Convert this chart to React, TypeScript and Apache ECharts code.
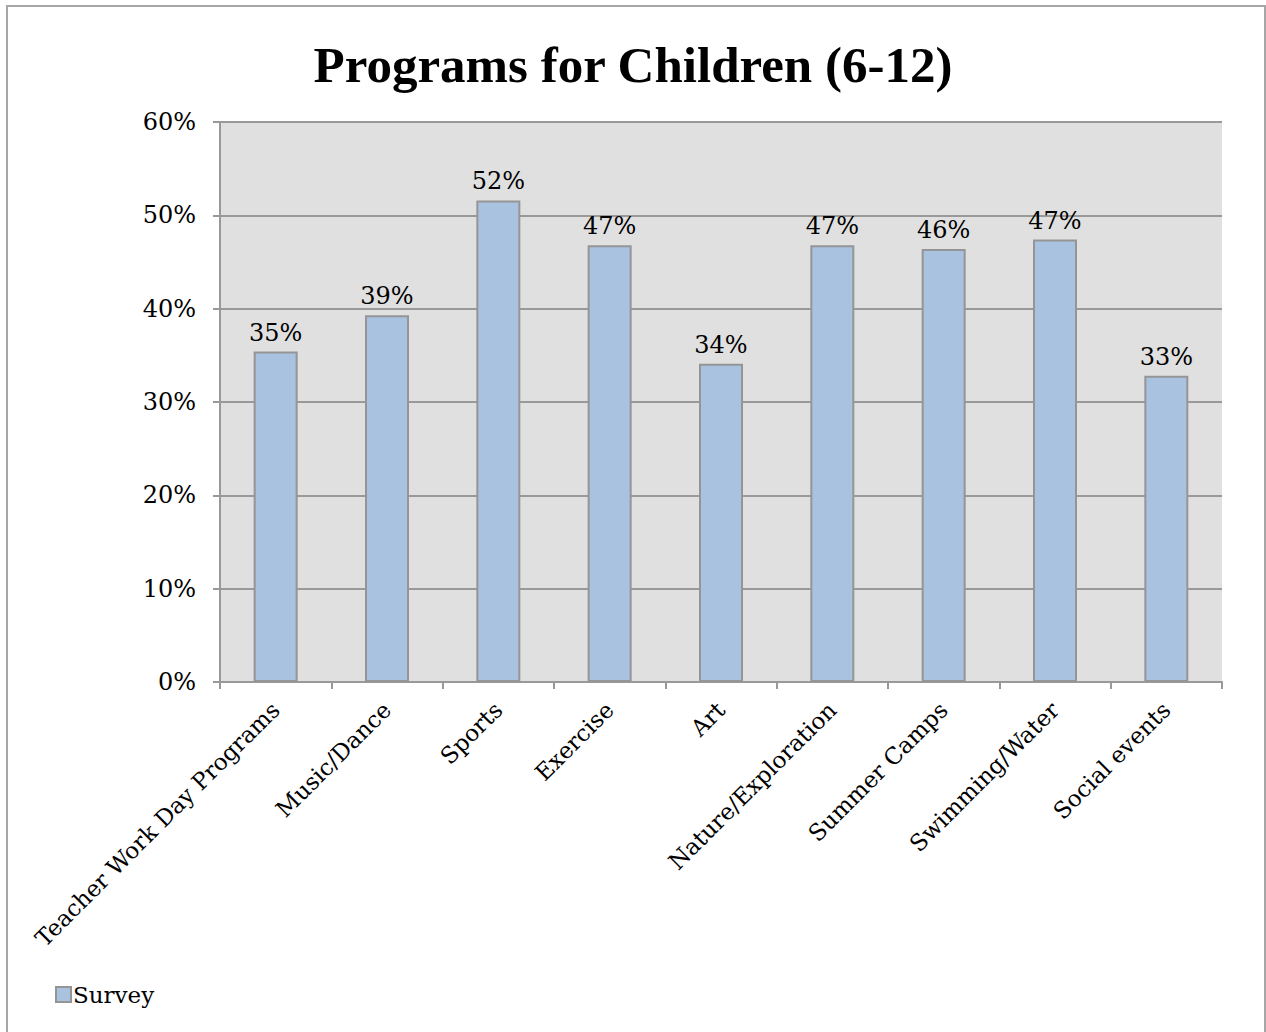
import React, { useEffect, useRef } from "react";
import * as echarts from "echarts";

const categories = [
  "Teacher Work Day Programs",
  "Music/Dance",
  "Sports",
  "Exercise",
  "Art",
  "Nature/Exploration",
  "Summer Camps",
  "Swimming/Water",
  "Social events",
];
const surveyValues = [35.4, 39.3, 51.6, 46.8, 34.1, 46.8, 46.4, 47.4, 32.8];
const seriesName = "Survey";
const titleText = "Programs for Children (6-12)";

const FONT = "'DejaVu Serif', serif";
const GRAY = "#999999";

export default function App() {
  const ref = useRef<HTMLDivElement>(null);
  useEffect(() => {
    if (!ref.current) return;
    const chart = echarts.init(ref.current, null, { renderer: "svg" });
    chart.setOption({
      animation: false,
      backgroundColor: "#ffffff",
      title: {
        text: titleText,
        left: "center",
        top: 34,
        textStyle: {
          fontFamily: "'Liberation Serif', serif",
          fontWeight: "bold",
          fontSize: 51,
          color: "#000",
        },
      },
      legend: {
        left: 50,
        top: 978,
        itemWidth: 15,
        itemHeight: 15,
        itemGap: 6,
        icon: "rect",
        textStyle: { fontFamily: FONT, fontSize: 23, color: "#000", padding: [0, 0, 0, -3] },
        data: [seriesName],
      },
      graphic: [
        {
          type: "rect",
          shape: { x: 7, y: 6, width: 1258, height: 1100 },
          style: { fill: "none", stroke: "#a6a6a6", lineWidth: 2 },
          silent: true,
        },
      ],
      grid: {
        left: 220,
        right: 44,
        top: 122,
        bottom: 350,
        show: true,
        backgroundColor: "#e0e0e0",
        borderWidth: 0,
      },
      xAxis: {
        type: "category",
        data: categories,
        boundaryGap: true,
        axisLine: { show: true, lineStyle: { color: GRAY, width: 2 } },
        axisTick: { show: true, length: 7, lineStyle: { color: GRAY, width: 2 } },
        axisLabel: {
          rotate: 45,
          interval: 0,
          margin: 24,
          fontFamily: FONT,
          fontSize: 23,
          color: "#000",
        },
      },
      yAxis: {
        type: "value",
        min: 0,
        max: 60,
        interval: 10,
        axisLine: { show: true, lineStyle: { color: GRAY, width: 2 } },
        axisTick: { show: true, length: 7, lineStyle: { color: GRAY, width: 2 } },
        splitLine: { show: true, lineStyle: { color: GRAY, width: 2 } },
        axisLabel: {
          margin: 24,
          fontFamily: FONT,
          fontSize: 24,
          color: "#000",
          formatter: (v: number) => `${v}%`,
        },
      },
      series: [
        {
          name: seriesName,
          type: "bar",
          data: surveyValues,
          barWidth: 44,
          itemStyle: { color: "#a8c2e0", borderColor: "#959595", borderWidth: 2 },
          label: {
            show: true,
            position: "top",
            distance: 7,
            fontFamily: FONT,
            fontSize: 24,
            color: "#000",
            formatter: (p: any) => `${Math.round(p.value)}%`,
          },
        },
      ],
    });
    return () => chart.dispose();
  }, []);
  return (
    <div
      ref={ref}
      style={{ position: "fixed", left: 0, top: 0, width: 1266, height: 1032 }}
    />
  );
}
